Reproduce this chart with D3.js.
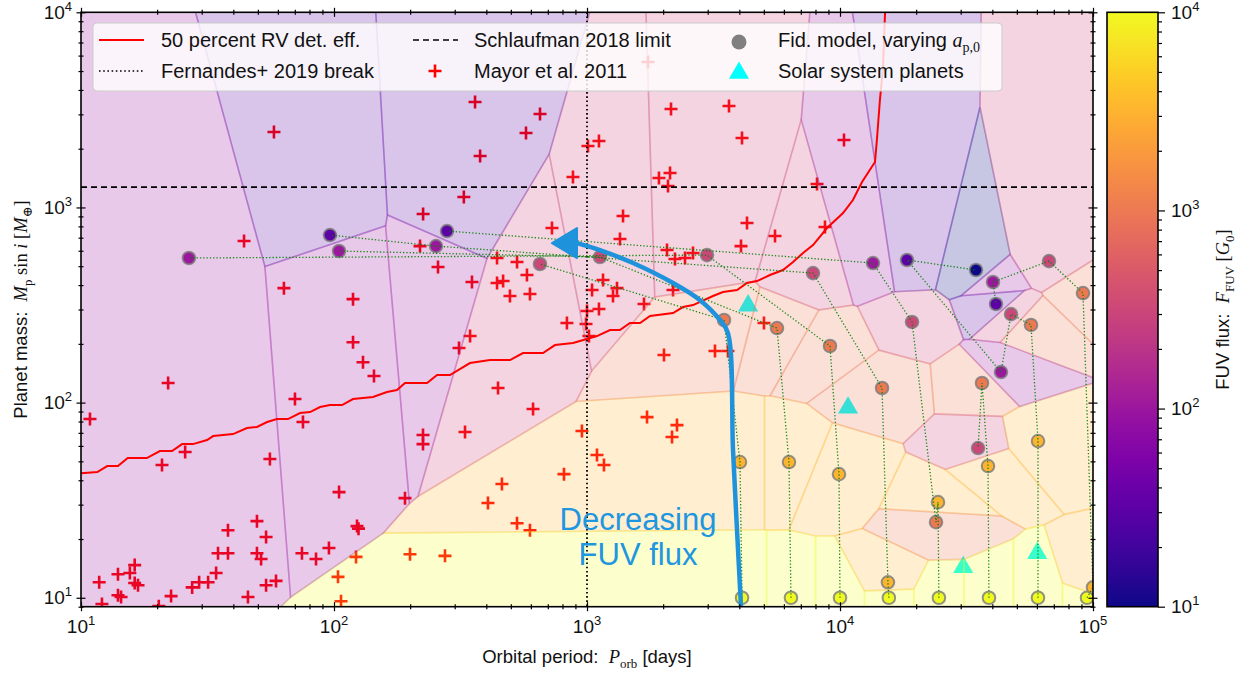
<!DOCTYPE html>
<html>
<head>
<meta charset="utf-8">
<script src="https://cdn.jsdelivr.net/npm/d3@7"></script>
<style>
  body { margin: 0; background: #fff; }
  svg text { font-family: "Liberation Sans", Arial, sans-serif; white-space: pre; }
</style>
</head>
<body>
<div id="chart"></div>
<script>
// ---- DATA ----

// 50 percent RV detection efficiency curve
const rvPeriod = [10.0, 11.6, 12.7, 14.0, 15.3, 18.2, 20.5, 22.9, 25.1, 27.7, 31.5, 33.3, 39.9, 45.3, 49.6, 54.4, 59.5, 65.8, 73.4, 80.4, 88.1, 96.4, 107.6, 118.9, 142.6, 161.9, 177.4, 190.8, 233.3, 255.5, 287.3, 344.7, 413.6, 496.3, 558.5, 670, 747, 880.5, 1095, 1233, 1349, 1479, 1620, 1775, 2188, 2395, 2625, 3148, 3447, 3917, 4290, 4698, 5287, 5953, 6521, 7143, 7823, 8885, 10280, 11250, 12220, 13750, 13990, 14380, 14790, 15070];
const rvMass = [43.5, 44.1, 47.3, 47.3, 52.0, 52.0, 56.5, 56.5, 61.3, 61.3, 64.3, 67.4, 69.0, 74.1, 75.0, 79.5, 82.4, 82.4, 88.4, 89.4, 94.9, 97.2, 97.2, 104.3, 106.8, 113.3, 115.9, 126.0, 126.0, 138.4, 138.4, 159.5, 165.3, 165.3, 179.5, 179.5, 197.2, 201.9, 219.3, 235.5, 235.5, 255.7, 255.7, 277.7, 287.7, 308.8, 316, 351.7, 368.7, 377.5, 410, 419.5, 450.6, 477.9, 525.4, 584.2, 642, 784.6, 936.5, 1092, 1350, 1709, 2216, 3553, 5183, 10000];

// Mayor et al. 2011 planets
const mayorPeriod = [1742, 361, 652, 574, 1009, 1115, 378, 880, 326, 225, 2148, 3641, 4099, 1925, 2129, 2090, 1388, 4290, 8113, 727, 57.9, 10370, 8722, 44.1, 63.4, 118.9, 118.9, 130.2, 143.9, 22.1, 70.1, 75.4, 10.85, 218.8, 1350, 5535, 4062, 2071, 2227, 2440, 2624, 441, 529, 257.7, 579, 351, 441, 466, 496, 595, 1157, 1047, 1314, 1267, 2188, 1680, 1000, 1115, 833, 991, 1018, 345, 312, 2015, 3205, 3607, 5006, 445, 612, 329.5, 224.8, 224.8, 1727, 2268, 2168, 955, 25.8, 20.9, 55.8, 104.7, 190.8, 123.3, 125, 49.6, 38.1, 53.9, 34.8, 38.1, 49.6, 51.5, 74.7, 84.9, 95.5, 122.2, 199.7, 103.7, 106.6, 274.6, 59.0, 53.9, 34.2, 31.8, 29.3, 27.5, 22.7, 45.7, 20.3, 16.3, 15.6, 14.0, 16.3, 16.8, 11.8, 14.0, 14.4, 12.1, 1095, 1167, 811, 461, 406, 529, 595];
const mayorMass = [5564, 3470, 3012, 2406, 2064, 2190, 1834, 1432, 1131, 925, 3194, 3310, 2269, 1415, 1501, 1288, 904, 832, 1319, 785, 2435, 2216, 794, 673, 386, 339, 204, 161, 136.8, 126, 104.3, 79.5, 82.4, 634, 689, 714, 634, 605, 544, 551, 584, 551, 525, 495, 451, 415, 410, 420, 352, 360, 425, 377.5, 386, 352, 377.5, 320, 294.5, 301.6, 255.7, 252.7, 219.3, 219.3, 190.4, 175.3, 183.8, 183.8, 255.7, 118.8, 92.7, 70.7, 68.2, 61.3, 84.3, 76.7, 66.6, 71.5, 55.8, 47.9, 51.4, 34.8, 32.4, 23.3, 22.6, 24.7, 22.2, 20.5, 16.9, 16.9, 16.9, 15.8, 16.9, 15.8, 18.0, 16.2, 16.7, 12.8, 9.6, 16.4, 12.2, 11.6, 13.4, 12.0, 12.0, 11.3, 10.2, 10.1, 9.06, 14.7, 13.4, 13.2, 11.9, 11.6, 12.0, 10.3, 10.1, 9.29, 53.9, 47.9, 43.0, 38.3, 30.6, 24.1, 22.2];

// Solar system planets (Jupiter, Saturn, Uranus, Neptune)
const solarPeriod = [4333, 10759, 30687, 60190];
const solarMass = [317.8, 95.2, 14.5, 17.1];

const schlaufmanLimit = 1271;   // M_earth
const fernandesBreak = 1000;    // days

// fiducial model tracks, one per initial orbit a_p,0, ordered by decreasing FUV flux
const trackPeriod = [
  [4100, 4024, 3480, 652],
  [6400, 6286, 5636, 1125, 104.7],
  [10000, 9909, 9130, 2981, 26.7],
  [15600, 15470, 14660, 7823, 253, 96.4],
  [24600, 24400, 23960, 19260, 13500, 279.7],
  [38800, 38460, 36410, 35120],
  [60600, 60620, 56880, 47430, 43290, 18400, 34480],
  [94700, 100000, 91290, 67010, 40240, 41360]
];
const trackMass = [
  [10, 49.6, 265, 513],
  [10, 49.6, 241, 557, 598],
  [10, 43.0, 195, 570, 551],
  [10, 12.0, 118.8, 461, 634, 722],
  [10, 30.9, 24.4, 259, 519, 757],
  [10, 47.3, 126, 58.5],
  [10, 63.5, 250, 284, 143.4, 538, 478],
  [10, 11.3, 364, 531, 415, 320]
];
const fluxLevels = [10000, 3162, 1000, 316, 100, 31.6, 10];  // G_0

// "Decreasing FUV flux" arrow path
const arrowPeriod = [4062, 3917, 3777, 3607, 3355, 2797, 2188, 1520, 1125, 913];
const arrowMass = [9, 22.2, 57.1, 227, 265, 335, 410, 519, 605, 657];
const arrowTip = [727, 657];

// ---- LAYOUT ----
const width = 1247, height = 675;
const plotL = 81, plotR = 1093, plotT = 12.3, plotB = 606.7;
const cbL = 1107, cbR = 1158;
const SERIF = '"Liberation Serif", "DejaVu Serif", serif';

const x = d3.scaleLog().domain([10, 1e5]).range([plotL, plotR]);
const y = d3.scaleLog().domain([9, 1e4]).range([plotB, plotT]);
const cb = d3.scaleLog().domain([10, 1e4]).range([plotB, plotT]);
const fluxColor = d3.scaleSequentialLog(d3.interpolatePlasma).domain([10, 1e4]);

const svg = d3.select("#chart").append("svg")
  .attr("width", width).attr("height", height)
  .attr("viewBox", [0, 0, width, height]);

svg.append("defs").append("clipPath").attr("id", "plotClip")
  .append("rect").attr("x", plotL).attr("y", plotT)
  .attr("width", plotR - plotL).attr("height", plotB - plotT);

const plot = svg.append("g").attr("clip-path", "url(#plotClip)");

// helper for mixed text / math
function richText(sel, parts) {
  let shift = 0;
  parts.forEach(([str, kind]) => {
    const ts = sel.append("tspan").text(str);
    let target = 0;
    if (kind === "i") ts.attr("font-family", SERIF).attr("font-style", "italic");
    if (kind === "r") ts.attr("font-family", SERIF);
    if (kind === "sub") { ts.attr("font-family", SERIF).attr("font-size", "0.7em"); target = 5; }
    if (target - shift !== 0) ts.attr("dy", target - shift);
    shift = target;
  });
}

const plusPath = "M-6.5,0H6.5M0,-6.5V6.5";

// Mayor et al. points (under the voronoi cells)
plot.append("g").selectAll("path")
  .data(mayorPeriod.map((p, i) => [p, mayorMass[i]]))
  .join("path")
  .attr("d", plusPath)
  .attr("transform", d => `translate(${x(d[0])},${y(d[1])})`)
  .attr("stroke", "#ff0000").attr("stroke-width", 2.6).attr("fill", "none");

// Solar system planets
const tri = d3.symbol(d3.symbolTriangle).size(175);
plot.append("g").selectAll("path")
  .data(solarPeriod.map((p, i) => [p, solarMass[i]]))
  .join("path")
  .attr("d", tri)
  .attr("transform", d => `translate(${x(d[0])},${y(d[1]) + 1})`)
  .attr("fill", "#00ffff");

// fiducial points
const fidPoints = [];
trackPeriod.forEach((ps, t) => ps.forEach((p, i) =>
  fidPoints.push({ p, m: trackMass[t][i], f: fluxLevels[i] })));

// voronoi tessellation in log-log space
const delaunay = d3.Delaunay.from(fidPoints, d => Math.log10(d.p), d => Math.log10(d.m));
const vor = delaunay.voronoi([0.5, 0.5, 5.5, 4.5]);
plot.append("g").selectAll("path")
  .data(fidPoints)
  .join("path")
  .attr("d", (d, i) => {
    const poly = vor.cellPolygon(i);
    return "M" + poly.map(q => [x(10 ** q[0]), y(10 ** q[1])].join(",")).join("L") + "Z";
  })
  .attr("fill", d => fluxColor(d.f)).attr("fill-opacity", 0.23)
  .attr("stroke", d => fluxColor(d.f)).attr("stroke-opacity", 0.24).attr("stroke-width", 1.6);

// reference lines
plot.append("line")
  .attr("x1", plotL).attr("x2", plotR)
  .attr("y1", y(schlaufmanLimit)).attr("y2", y(schlaufmanLimit))
  .attr("stroke", "#000").attr("stroke-width", 1.6).attr("stroke-dasharray", "6,4");
plot.append("line")
  .attr("x1", x(fernandesBreak)).attr("x2", x(fernandesBreak))
  .attr("y1", plotT).attr("y2", plotB)
  .attr("stroke", "#000").attr("stroke-width", 1.8).attr("stroke-dasharray", "1.6,2.6");

// RV detection efficiency
plot.append("path")
  .datum(rvPeriod.map((p, i) => [p, rvMass[i]]))
  .attr("d", d3.line().x(d => x(d[0])).y(d => y(d[1])))
  .attr("fill", "none").attr("stroke", "#ff0000").attr("stroke-width", 2);

// fiducial markers and tracks
plot.append("g").selectAll("circle")
  .data(fidPoints)
  .join("circle")
  .attr("cx", d => x(d.p)).attr("cy", d => y(d.m)).attr("r", 6.3)
  .attr("fill", d => fluxColor(d.f))
  .attr("stroke", "#7a7a7a").attr("stroke-opacity", 0.8).attr("stroke-width", 2);

const trackLine = d3.line().x(d => x(d[0])).y(d => y(d[1]));
plot.append("g").selectAll("path")
  .data(trackPeriod.map((ps, t) => ps.map((p, i) => [p, trackMass[t][i]])))
  .join("path")
  .attr("d", trackLine)
  .attr("fill", "none").attr("stroke", "#008000").attr("stroke-width", 1.3)
  .attr("stroke-dasharray", "1.3,2").attr("stroke-opacity", 0.9);

// blue arrow
const arrowPts = arrowPeriod.map((p, i) => [x(p), y(arrowMass[i])]);
plot.append("path")
  .attr("d", d3.line().curve(d3.curveCatmullRom)(arrowPts))
  .attr("fill", "none").attr("stroke", "#1e93dc").attr("stroke-width", 4.5).attr("stroke-linecap", "round");
{
  const base = arrowPts[arrowPts.length - 1];
  const tip = [x(arrowTip[0]), y(arrowTip[1])];
  const dx = tip[0] - base[0], dy = tip[1] - base[1];
  const len = Math.hypot(dx, dy);
  const px = -dy / len * 15, py = dx / len * 15;
  plot.append("path")
    .attr("d", `M${tip[0]},${tip[1]}L${base[0] + px},${base[1] + py}L${base[0] - px},${base[1] - py}Z`)
    .attr("fill", "#1e93dc").attr("stroke", "#1e93dc").attr("stroke-width", 2).attr("stroke-linejoin", "round");
}

// ---- AXES ----
function logTicks(lo, hi) {
  const major = [], minor = [];
  for (let e = Math.floor(Math.log10(lo)); e <= Math.ceil(Math.log10(hi)); e++) {
    for (let k = 1; k < 10; k++) {
      const v = k * 10 ** e;
      if (v < lo * 0.999 || v > hi * 1.001) continue;
      (k === 1 ? major : minor).push(v);
    }
  }
  return { major, minor };
}
const xt = logTicks(10, 1e5), yt = logTicks(9, 1e4), ct = logTicks(10, 1e4);

function drawAxis(axisFn, scale, vals, len, pos, inout) {
  const g = svg.append("g").attr("transform", pos)
    .call(axisFn(scale).tickValues(vals).tickSize(len).tickFormat(""));
  g.select(".domain").remove();
  if (inout) {
    g.selectAll(".tick line").each(function () {
      const l = d3.select(this);
      if (l.attr("y2") !== null && +l.attr("y2") !== 0) l.attr("y1", -len).attr("y2", len);
      else l.attr("x1", -len).attr("x2", len);
    });
  }
  g.selectAll(".tick line").attr("stroke", "#000").attr("stroke-width", 1.2);
  return g;
}
[[xt.major, 4.5], [xt.minor, 2.5]].forEach(([v, l]) => {
  drawAxis(d3.axisBottom, x, v, l, `translate(0,${plotB})`, true);
  drawAxis(d3.axisTop, x, v, l, `translate(0,${plotT})`, true);
});
[[yt.major, 4.5], [yt.minor, 2.5]].forEach(([v, l]) => {
  drawAxis(d3.axisLeft, y, v, l, `translate(${plotL},0)`, true);
  drawAxis(d3.axisRight, y, v, l, `translate(${plotR},0)`, true);
});

svg.append("rect")
  .attr("x", plotL).attr("y", plotT).attr("width", plotR - plotL).attr("height", plotB - plotT)
  .attr("fill", "none").attr("stroke", "#000").attr("stroke-width", 1.6);

function powLabel(xp, yp, exp, anchor) {
  const t = svg.append("text").attr("x", xp).attr("y", yp).attr("text-anchor", anchor)
    .attr("font-family", SERIF).attr("font-size", 19).attr("fill", "#111");
  t.append("tspan").text("10");
  t.append("tspan").attr("dy", -8).attr("font-size", 13).text(exp);
}
xt.major.forEach(v => powLabel(x(v), 633, Math.round(Math.log10(v)), "middle"));
yt.major.forEach(v => powLabel(72, y(v) + 6.5, Math.round(Math.log10(v)), "end"));

// axis titles
richText(svg.append("text").attr("x", (plotL + plotR) / 2).attr("y", 663)
  .attr("text-anchor", "middle").attr("font-size", 18.5).attr("fill", "#111"),
  [["Orbital period:  ", "t"], ["P", "i"], ["orb", "sub"], [" [days]", "t"]]);
richText(svg.append("text").attr("transform", `translate(27,${(plotT + plotB) / 2}) rotate(-90)`)
  .attr("text-anchor", "middle").attr("font-size", 18.5).attr("fill", "#111"),
  [["Planet mass:  ", "t"], ["M", "i"], ["p", "sub"], [" sin ", "r"], ["i", "i"], [" [", "r"], ["M", "i"], ["⊕", "sub"], ["]", "r"]]);

// ---- COLORBAR ----
const grad = svg.select("defs").append("linearGradient").attr("id", "plasmaGrad")
  .attr("x1", 0).attr("y1", 1).attr("x2", 0).attr("y2", 0);
d3.range(0, 1.0001, 0.05).forEach(t =>
  grad.append("stop").attr("offset", t).attr("stop-color", d3.interpolatePlasma(t)));
svg.append("rect").attr("x", cbL).attr("y", plotT).attr("width", cbR - cbL).attr("height", plotB - plotT)
  .attr("fill", "url(#plasmaGrad)").attr("stroke", "#000").attr("stroke-width", 1.6);
drawAxis(d3.axisRight, cb, ct.major, 7, `translate(${cbR},0)`, false);
drawAxis(d3.axisRight, cb, ct.minor, 4, `translate(${cbR},0)`, false);
ct.major.forEach(v => powLabel(1171, cb(v) + 6.5, Math.round(Math.log10(v)), "start"));
richText(svg.append("text").attr("transform", `translate(1229,${(plotT + plotB) / 2}) rotate(-90)`)
  .attr("text-anchor", "middle").attr("font-size", 18.5).attr("fill", "#111"),
  [["FUV flux:  ", "t"], ["F", "i"], ["FUV", "sub"], [" [", "r"], ["G", "i"], ["0", "sub"], ["]", "r"]]);

// ---- LEGEND ----
const leg = svg.append("g");
leg.append("rect").attr("x", 93).attr("y", 23).attr("width", 909).attr("height", 68).attr("rx", 4)
  .attr("fill", "#fff").attr("fill-opacity", 0.8).attr("stroke", "#cccccc").attr("stroke-width", 1);
const row1 = 40, row2 = 71;
leg.append("line").attr("x1", 99).attr("x2", 144).attr("y1", row1).attr("y2", row1)
  .attr("stroke", "#ff0000").attr("stroke-width", 2);
leg.append("line").attr("x1", 99).attr("x2", 144).attr("y1", row2).attr("y2", row2)
  .attr("stroke", "#000").attr("stroke-width", 1.6).attr("stroke-dasharray", "1.6,2.6");
leg.append("line").attr("x1", 413).attr("x2", 458).attr("y1", row1).attr("y2", row1)
  .attr("stroke", "#000").attr("stroke-width", 1.6).attr("stroke-dasharray", "6,4");
leg.append("path").attr("d", plusPath).attr("transform", `translate(435,${row2})`)
  .attr("stroke", "#ff0000").attr("stroke-width", 2.6);
leg.append("circle").attr("cx", 739).attr("cy", row1 + 2).attr("r", 7.5).attr("fill", "#808080");
leg.append("path").attr("d", tri).attr("transform", `translate(739,${row2 + 2})`).attr("fill", "#00ffff");

const legText = (xp, yp, parts) => richText(
  leg.append("text").attr("x", xp).attr("y", yp + 7).attr("font-size", 20).attr("fill", "#111"), parts);
legText(161, row1, [["50 percent RV det. eff.", "t"]]);
legText(161, row2, [["Fernandes+ 2019 break", "t"]]);
legText(474, row1, [["Schlaufman 2018 limit", "t"]]);
legText(474, row2, [["Mayor et al. 2011", "t"]]);
legText(778, row1, [["Fid. model, varying ", "t"], ["a", "i"], ["p,0", "sub"]]);
legText(778, row2, [["Solar system planets", "t"]]);

// ---- ANNOTATION ----
const ann = svg.append("text").attr("text-anchor", "middle").attr("font-size", 31).attr("fill", "#1e96e0");
ann.append("tspan").attr("x", 638).attr("y", 530).text("Decreasing");
ann.append("tspan").attr("x", 638).attr("y", 565).text("FUV flux");
</script>
</body>
</html>
